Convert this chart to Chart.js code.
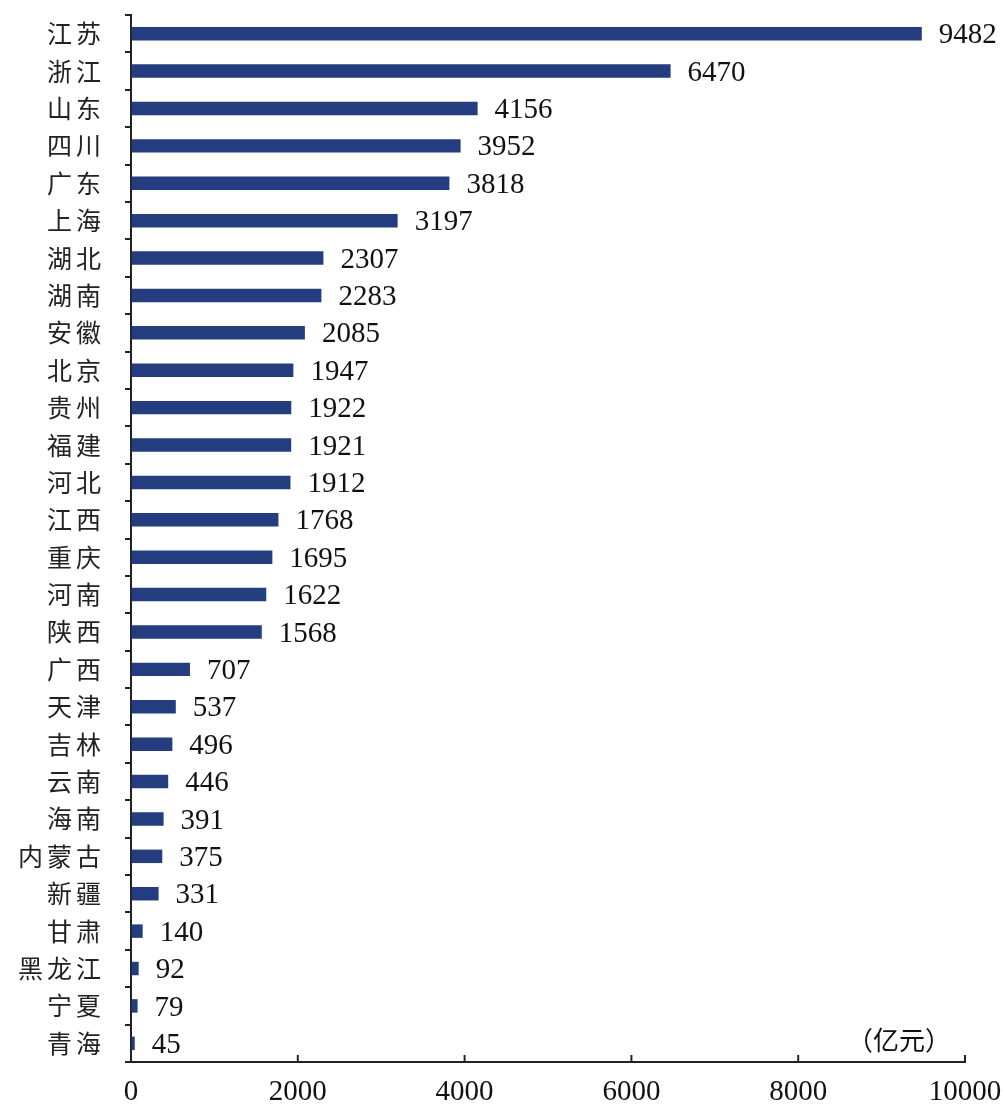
<!DOCTYPE html>
<html>
<head>
<meta charset="utf-8">
<script src="https://cdn.jsdelivr.net/npm/chart.js@4/dist/chart.umd.min.js"></script>
<style>
  html, body { margin: 0; padding: 0; background: #fff; }
  #wrap { width: 1004px; height: 1111px; }
</style>
</head>
<body>
<div id="wrap"><canvas id="chart"></canvas></div>
<script>
      // ---------- Data ----------
      const provinces = ["江苏", "浙江", "山东", "四川", "广东", "上海", "湖北", "湖南", "安徽", "北京",
        "贵州", "福建", "河北", "江西", "重庆", "河南", "陕西", "广西", "天津", "吉林",
        "云南", "海南", "内蒙古", "新疆", "甘肃", "黑龙江", "宁夏", "青海"];
      const amounts = [9482, 6470, 4156, 3952, 3818, 3197, 2307, 2283, 2085, 1947,
        1922, 1921, 1912, 1768, 1695, 1622, 1568, 707, 537, 496,
        446, 391, 375, 331, 140, 92, 79, 45];
      const xTicks = [0, 2000, 4000, 6000, 8000, 10000];
      const unitLabel = "（亿元）";

      const serif = "'Liberation Serif', 'DejaVu Serif', serif";
      const cjk = "'Noto Sans CJK SC', sans-serif";
      const axisColor = "#222";

      // letter spacing for the province labels only
      const spacing = {
        id: "spacing",
        afterUpdate(chart) {
          const y = chart.scales.y;
          if (y._spaced) return;
          const orig = y.drawLabels.bind(y);
          y.drawLabels = (area) => {
            chart.ctx.letterSpacing = "4px";
            orig(area);
            chart.ctx.letterSpacing = "0px";
          };
          y._spaced = true;
        },
      };

      // value labels, inward x ticks, unit text
      const extras = {
        id: "extras",
        afterDraw(chart) {
          const ctx = chart.ctx;
          const x = chart.scales.x;
          ctx.save();
          // x ticks pointing up into the plot
          ctx.strokeStyle = axisColor;
          ctx.lineWidth = 2;
          xTicks.forEach((v) => {
            const px = x.getPixelForValue(v);
            ctx.beginPath();
            ctx.moveTo(px, x.top);
            ctx.lineTo(px, x.top - 7);
            ctx.stroke();
          });
          // bar values
          ctx.fillStyle = "#111";
          ctx.font = "29px " + serif;
          ctx.textBaseline = "middle";
          ctx.textAlign = "left";
          chart.getDatasetMeta(0).data.forEach((bar, i) => {
            ctx.fillText(String(amounts[i]), bar.x + 17, bar.y + 2);
          });
          // unit
          ctx.font = "26px " + cjk;
          ctx.textAlign = "right";
          ctx.fillText(unitLabel, x.right - 14, x.top - 22);
          ctx.restore();
        },
      };

      new Chart(document.getElementById("chart"), {
        type: "bar",
        data: {
          labels: provinces,
          datasets: [{ data: amounts, backgroundColor: "#233d7e", barPercentage: 0.36, categoryPercentage: 1 }],
        },
        options: {
          indexAxis: "y",
          responsive: true,
          maintainAspectRatio: false,
          animation: false,
          layout: { padding: { top: 15, right: 39, left: 0, bottom: 0 } },
          plugins: { legend: { display: false }, tooltip: { enabled: false } },
          scales: {
            y: {
              afterFit: (s) => { s.width = 131; s.paddingTop = 0; s.paddingBottom = 0; },
              border: { color: axisColor, width: 2 },
              grid: { offset: true, drawOnChartArea: false, tickLength: 6, color: axisColor, lineWidth: 2 },
              ticks: { color: "#222", padding: 20, autoSkip: false, font: { family: cjk, size: 25 } },
            },
            x: {
              min: 0,
              max: 10000,
              afterFit: (s) => { s.height = 49; s.paddingLeft = 0; s.paddingRight = 0; },
              afterBuildTicks: (s) => { s.ticks = xTicks.map((v) => ({ value: v })); },
              border: { color: axisColor, width: 2 },
              grid: { drawOnChartArea: false, drawTicks: false },
              ticks: { color: "#111", padding: 13, maxRotation: 0, callback: (v) => String(v), font: { family: serif, size: 29 } },
            },
          },
        },
        plugins: [spacing, extras],
      });
</script>
</body>
</html>
